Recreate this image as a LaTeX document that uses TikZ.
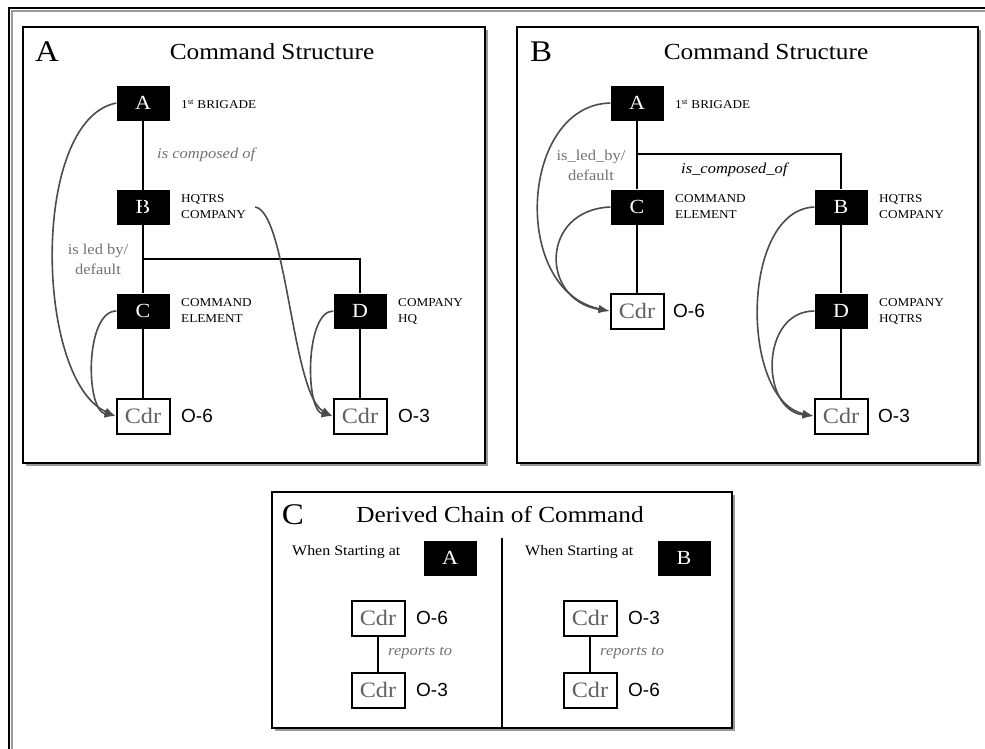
\documentclass[tikz,border=0pt]{standalone}
\usepackage{fontspec}
\setmainfont{Liberation Serif}[FakeStretch=1.1]
\setsansfont{Liberation Sans}
\usetikzlibrary{arrows.meta,shadows}
\definecolor{txtgray}{gray}{0.45}
\definecolor{cdrgray}{gray}{0.38}
\definecolor{curvegray}{gray}{0.3}
\tikzset{
  panel/.style={draw=black, line width=2.6pt, fill=white, inner sep=0pt,
    drop shadow={shadow xshift=2.5pt, shadow yshift=-2.5pt, fill=black!40, opacity=1}},
  blk/.style={fill=black, text=white, minimum width=53pt, minimum height=35pt, inner sep=0pt,
    font=\fontsize{20}{20}\selectfont},
  cdr/.style={draw=black, line width=2pt, fill=white, text=cdrgray, minimum width=53pt,
    minimum height=35pt, inner sep=0pt, font=\fontsize{22}{22}\selectfont},
  rank/.style={anchor=west, inner sep=0pt, font=\sffamily\fontsize{19}{19}\selectfont},
  lab/.style={anchor=west, inner sep=0pt, align=left, font=\fontsize{12}{16}\selectfont},
  rel/.style={anchor=west, inner sep=0pt, font=\itshape\fontsize{15}{15}\selectfont},
  led/.style={inner sep=0pt, align=center, text=txtgray, font=\fontsize{15}{20}\selectfont},
  title/.style={inner sep=0pt, font=\fontsize{23}{23}\selectfont},
  plabel/.style={inner sep=0pt, font=\fontsize{30}{30}\selectfont},
  tree/.style={draw=black, line width=2pt},
  curve/.style={draw=curvegray, line width=1.6pt, -{Latex[length=11pt,width=8pt]}},
}
\begin{document}
\begin{tikzpicture}[x=1pt,y=-1pt]
\useasboundingbox (0,0) rectangle (985,748);
% outer frame (top and left visible)
\coordinate (oBL) at (9,760);
\coordinate (oTL) at (9,8);
\coordinate (oTR) at (990,8);
\draw[black!40, line width=2pt] (12,760) -- (12,11) -- (990,11);
\draw[black, line width=2.6pt] (oBL) -- (oTL) -- (oTR);

% ---------------- Panel A ----------------
\node[panel, minimum width=462pt, minimum height=436pt] (pA) at (254,245) {};
\node[plabel] (aLet) at (47,52) {A};
\node[title] (aTit) at (272,52) {Command Structure};

\node[blk] (aA) at (143,103) {A};
\node[blk] (aB) at (143,207) {B};
\node[blk] (aC) at (143,311) {C};
\node[blk] (aD) at (360,311) {D};
\node[cdr] (aCdrC) at (143,416) {Cdr};
\node[cdr] (aCdrD) at (360,416) {Cdr};

\node[lab] (aLA) at (181,104) {1\textsuperscript{st} BRIGADE};
\node[lab] (aLB) at (181,207) {HQTRS\\COMPANY};
\node[lab] (aLC) at (181,311) {COMMAND\\ELEMENT};
\node[lab] (aLD) at (398,311) {COMPANY\\HQ};
\node[rank] (aR6) at (181,416) {O-6};
\node[rank] (aR3) at (398,416) {O-3};

\node[rel, text=txtgray] (aRel) at (157,155) {is composed of};
\node[led] (aLed) at (98,259) {is led by/\\default};

\coordinate (aJ) at (143,259);
\draw[tree] (aA.south) -- (aB.south);
\draw[tree] (aB.south) -- (aC.north);
\draw[tree] (aJ) -| (aD.north);
\draw[tree] (aC.south) -- (aCdrC.north);
\draw[tree] (aD.south) -- (aCdrD.north);

\draw[curve] (aA.west) .. controls (30,120) and (35,380) .. (aCdrC.west);
\draw[curve] (aC.west) .. controls (85,311) and (85,410) .. (aCdrC.west);
\draw[curve] ([xshift=9pt]aLB.east) .. controls (287,212) and (292,395) .. (aCdrD.west);
\draw[curve] (aD.west) .. controls (305,311) and (305,410) .. (aCdrD.west);

% ---------------- Panel B ----------------
\node[panel, minimum width=461pt, minimum height=436pt] (pB) at (747.5,245) {};
\node[plabel] (bLet) at (541,52) {B};
\node[title] (bTit) at (766,52) {Command Structure};

\node[blk] (bA) at (637,103) {A};
\node[blk] (bC) at (637,207) {C};
\node[blk] (bB) at (841,207) {B};
\node[blk] (bD) at (841,311) {D};
\node[cdr] (bCdr6) at (637,311) {Cdr};
\node[cdr] (bCdr3) at (841,416) {Cdr};

\node[lab] (bLA) at (675,104) {1\textsuperscript{st} BRIGADE};
\node[lab] (bLC) at (675,207) {COMMAND\\ELEMENT};
\node[lab] (bLB) at (879,207) {HQTRS\\COMPANY};
\node[lab] (bLD) at (879,311) {COMPANY\\HQTRS};
\node[rank] (bR6) at (673,311) {O-6};
\node[rank] (bR3) at (878,416) {O-3};

\node[rel] (bRel) at (681,170) {is\_composed\_of};
\node[led] (bLed) at (591,165) {is\_led\_by/\\default};

\coordinate (bJ) at (637,154);
\draw[tree] (bA.south) -- (bC.north);
\draw[tree] (bJ) -| (bB.north);
\draw[tree] (bC.south) -- (bCdr6.north);
\draw[tree] (bB.south) -- (bD.north);
\draw[tree] (bD.south) -- (bCdr3.north);

\draw[curve] (bA.west) .. controls (520,105) and (510,290) .. (bCdr6.west);
\draw[curve] (bC.west) .. controls (540,210) and (540,300) .. (bCdr6.west);
\draw[curve] (bB.west) .. controls (740,210) and (740,400) .. (bCdr3.west);
\draw[curve] (bD.west) .. controls (760,311) and (760,410) .. (bCdr3.west);

% ---------------- Panel C ----------------
\node[panel, minimum width=460pt, minimum height=236pt] (pC) at (502,610) {};
\node[plabel] (cLet) at (293,515) {C};
\node[title] (cTit) at (500,515) {Derived Chain of Command};
\coordinate (cDivTop) at (502,538);
\draw[black, line width=2.6pt] (cDivTop) -- (pC.south);

\node[anchor=west, inner sep=0pt, font=\fontsize{14.5}{14.5}\selectfont] (cW1) at (292,552) {When Starting at};
\node[anchor=west, inner sep=0pt, font=\fontsize{14.5}{14.5}\selectfont] (cW2) at (525,552) {When Starting at};
\node[blk] (cA) at (450,558) {A};
\node[blk] (cB) at (684,558) {B};

\node[cdr] (cL1) at (378,618) {Cdr};
\node[cdr] (cL2) at (378,690) {Cdr};
\node[cdr] (cR1) at (590,618) {Cdr};
\node[cdr] (cR2) at (590,690) {Cdr};
\node[rank] (cLr1) at (416,618) {O-6};
\node[rank] (cLr2) at (416,690) {O-3};
\node[rank] (cRr1) at (628,618) {O-3};
\node[rank] (cRr2) at (628,690) {O-6};

\draw[tree, line width=1.6pt] (cL1.south) -- (cL2.north);
\draw[tree, line width=1.6pt] (cR1.south) -- (cR2.north);
\node[rel, text=txtgray] (cRelL) at (388,653) {reports to};
\node[rel, text=txtgray] (cRelR) at (600,653) {reports to};
\end{tikzpicture}
\end{document}
